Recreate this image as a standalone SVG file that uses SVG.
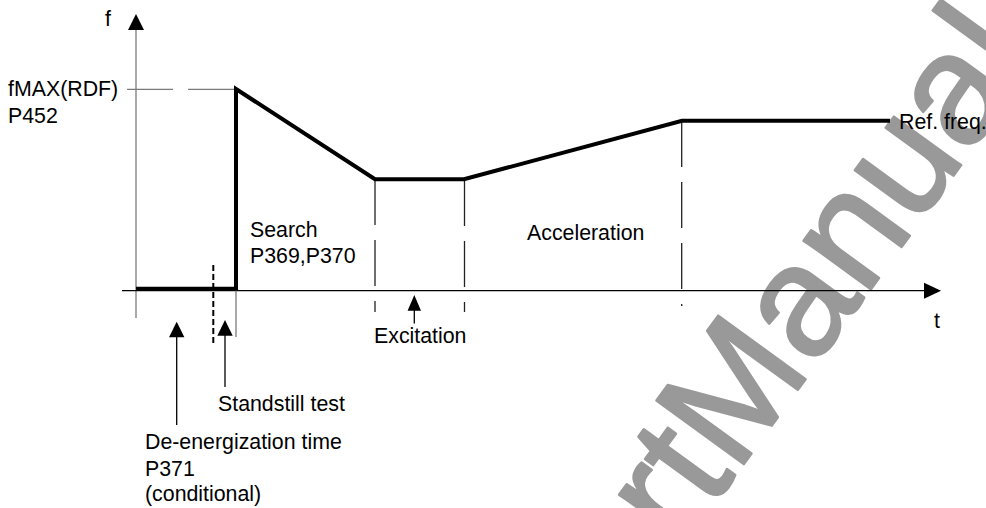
<svg xmlns="http://www.w3.org/2000/svg" width="986" height="508" viewBox="0 0 986 508">
<style>
  text { font-family: "Liberation Sans", Arial, sans-serif; font-size: 21.33px; fill: #000; }
  .wm { font-size: 157px; fill: #999999; stroke: #999999; stroke-width: 2.5; stroke-linejoin: round; }
  .thin { stroke: #000; stroke-width: 1.3; fill: none; }
  .gray { stroke: #7a7a7a; stroke-width: 1.3; fill: none; }
  .dash { stroke: #222; stroke-width: 1.3; fill: none; stroke-dasharray: 46 15; }
  .thick { stroke: #000; stroke-width: 4; fill: none; stroke-linejoin: miter; }
  .head { fill: #000; stroke: none; }
</style>
<rect width="986" height="508" fill="#fff"/>
<g id="watermark">
  <text class="wm" transform="translate(680,552) rotate(-54)">rtManual</text>
</g>
<g id="connectors">
  <!-- axes -->
  <line class="gray" x1="136" y1="29" x2="136" y2="318"/>
  <polygon class="head" points="136,14 128,30 144,30"/>
  <line class="thin" x1="122" y1="290.7" x2="924" y2="290.7"/>
  <polygon class="head" points="941,290.7 924,282.7 924,298.7"/>
  <!-- fMAX reference line -->
  <line class="gray" x1="127" y1="89.3" x2="236" y2="89.3" stroke-dasharray="46 15"/>
  <!-- vertical markers -->
  <line class="gray" x1="236" y1="289" x2="236" y2="337"/>
  <line x1="213.3" y1="265" x2="213.3" y2="345" stroke="#000" stroke-width="2" stroke-dasharray="6 3"/>
  <line class="dash" x1="375" y1="179" x2="375" y2="312"/>
  <line class="dash" x1="464.5" y1="180" x2="464.5" y2="312"/>
  <line class="dash" x1="681.7" y1="121" x2="681.7" y2="306"/>
  <!-- frequency curve -->
  <polyline class="thick" points="136,288.7 236,288.7 236,89 375,179.3 464,179.3 682,120.7 890,120.7"/>
  <!-- annotation arrows -->
  <line class="thin" x1="176.7" y1="336" x2="176.7" y2="425"/>
  <polygon class="head" points="176.7,321.7 169,337.3 184.4,337.3"/>
  <line class="thin" x1="225" y1="334" x2="225" y2="387"/>
  <polygon class="head" points="225,320 217.3,335.7 232.7,335.7"/>
  <line class="thin" x1="414.3" y1="309" x2="414.3" y2="323.5"/>
  <polygon class="head" points="414.3,295 407.6,310.7 421,310.7"/>
</g>
<g id="label-f"><text x="105" y="26">f</text></g>
<g id="label-t"><text x="934" y="328">t</text></g>
<g id="label-fmax">
  <text x="8" y="96">fMAX(RDF)</text>
  <text x="8" y="123">P452</text>
</g>
<g id="label-search">
  <text x="250" y="237">Search</text>
  <text x="250" y="263">P369,P370</text>
</g>
<g id="label-acceleration"><text x="527" y="240">Acceleration</text></g>
<g id="label-excitation"><text x="374" y="343">Excitation</text></g>
<g id="label-ref"><text x="899" y="129">Ref. freq.</text></g>
<g id="label-standstill"><text x="218" y="411">Standstill test</text></g>
<g id="label-deenergization">
  <text x="145" y="448.5">De-energization time</text>
  <text x="145" y="475.5">P371</text>
  <text x="145" y="501">(conditional)</text>
</g>
</svg>
